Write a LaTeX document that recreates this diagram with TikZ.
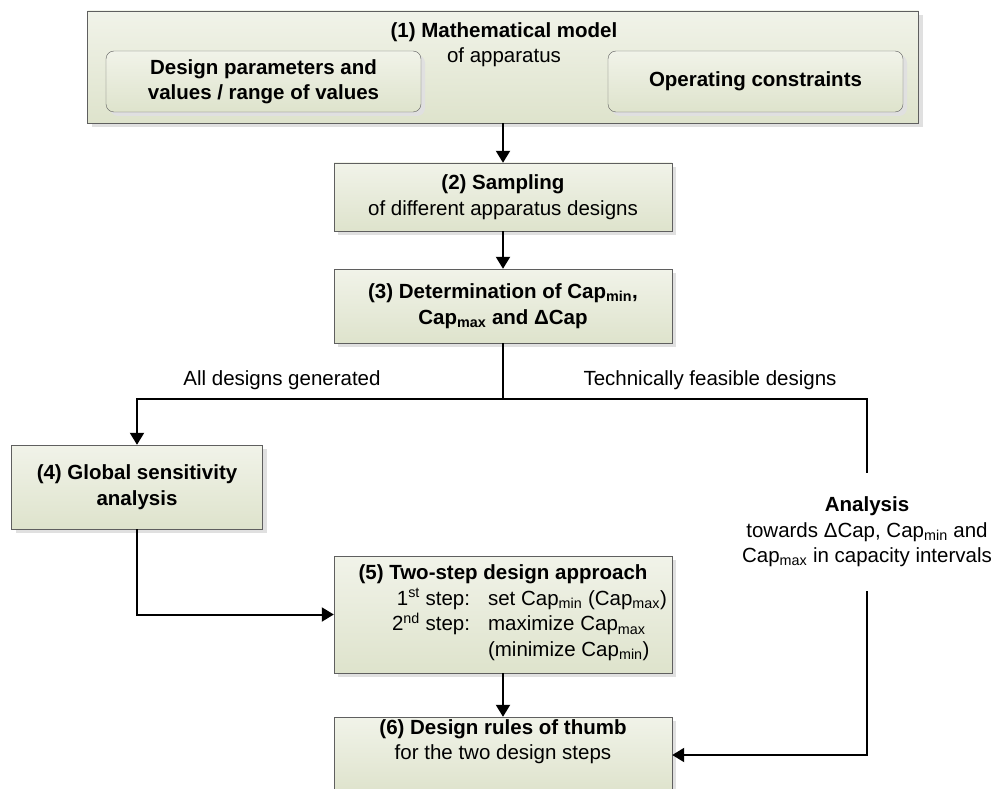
\documentclass[tikz,border=0pt]{standalone}
\usepackage{fontspec}
\setmainfont{Liberation Sans}
\usetikzlibrary{arrows.meta,shadows}
\definecolor{boxtop}{RGB}{241,243,233}
\definecolor{boxbot}{RGB}{222,227,204}
\definecolor{boxline}{RGB}{95,95,95}
\newcommand{\capmin}{Cap\textsubscript{min}}
\newcommand{\capmax}{Cap\textsubscript{max}}
\tikzset{
  stepbox/.style={draw=boxline, top color=boxtop, bottom color=boxbot, align=center, inner sep=0pt,
    drop shadow={shadow xshift=4pt, shadow yshift=-4pt, fill=black!12, opacity=1}},
  subbox/.style={stepbox, rounded corners=8pt},
  note/.style={align=center, inner sep=0pt},
  flow/.style={line width=2pt},
  flowarrow/.style={flow, -{Triangle[width=14pt,length=12pt]}},
}

\begin{document}
\begin{tikzpicture}[x=1pt,y=-1pt,font=\fontsize{20.5}{25.5}\selectfont]
\clip (0,0) rectangle (994,789);
% (1) model with its two inner boxes
\node[stepbox,minimum width=831pt,minimum height=112pt] (model) at (503,67) {};
\node[note] (modeltitle) at (504,44.5) {\textbf{(1) Mathematical model}\\of apparatus};
\node[subbox,minimum width=315pt,minimum height=61pt] (params) at (263.5,81.5)
  {\textbf{Design parameters and}\\\textbf{values / range of values}};
\node[subbox,minimum width=295pt,minimum height=61pt] (constr) at (755.5,81.5)
  {\textbf{Operating constraints}};
% (2) and (3)
\node[stepbox,minimum width=338pt,minimum height=68pt] (sampling) at (503,197)
  {\textbf{(2) Sampling}\\of different apparatus designs};
\node[stepbox,minimum width=338pt,minimum height=74pt] (determ) at (503,306)
  {\textbf{(3) Determination of \capmin,}\\\textbf{\capmax{} and ΔCap}};
% split of the designs
\coordinate (split) at (503,399);
\node[note] (alllabel) at (282,380) {All designs generated};
\node[note] (feaslabel) at (710,380) {Technically feasible designs};
% (4) sensitivity
\node[stepbox,minimum width=251pt,minimum height=84pt] (sens) at (137,487)
  {\textbf{(4) Global sensitivity}\\\textbf{analysis}};
% analysis on the right
\node[note,minimum height=118pt] (analysis) at (867,532)
  {\textbf{Analysis}\\towards ΔCap, \capmin{} and\\\capmax{} in capacity intervals};
% (5) two-step approach
\node[stepbox,minimum width=338pt,minimum height=117pt] (twostep) at (503,614.5)
  {\textbf{(5) Two-step design approach}\\
   \hspace*{53pt}\begin{tabular}[t]{@{}r@{\hspace{18pt}}l@{}}
   1\textsuperscript{st} step: & set \capmin{} (\capmax)\\
   2\textsuperscript{nd} step: & maximize \capmax\\
    & (minimize \capmin)
   \end{tabular}};
% (6) rules of thumb
\node[stepbox,minimum width=338pt,minimum height=76pt] (rules) at (503,755) {};
\node[note] (rulestext) at (503,741.5)
  {\textbf{(6) Design rules of thumb}\\for the two design steps};
% arrows
\draw[flowarrow] (model) -- (sampling);
\draw[flowarrow] (sampling) -- (determ);
\draw[flow] (determ) -- (split);
\draw[flowarrow] (split) -| (sens);
\draw[flow] (split) -| (analysis);
\draw[flowarrow] (sens) |- (twostep);
\draw[flowarrow] (twostep) -- (rules);
\draw[flowarrow] (analysis) |- (rules);
\end{tikzpicture}
\end{document}
